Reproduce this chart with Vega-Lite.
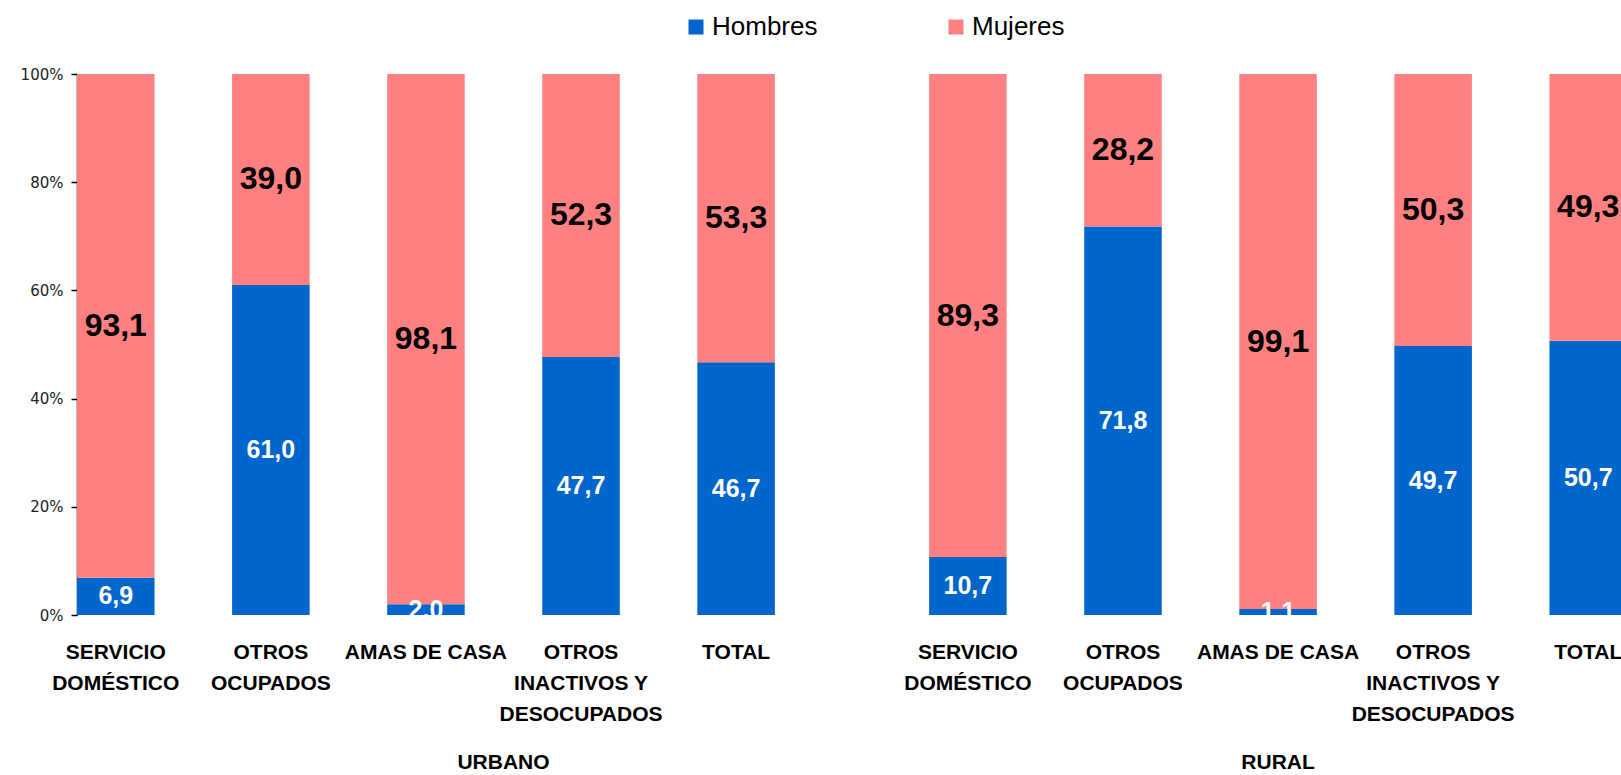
{
  "$schema": "https://vega.github.io/schema/vega-lite/v6.json",
  "width": 1544,
  "height": 541,
  "autosize": {"type": "none"},
  "padding": {"left": 77, "top": 74, "right": 0, "bottom": 160},
  "background": "white",
  "config": {
    "view": {"stroke": null},
    "font": "Liberation Sans",
    "locale": {"number": {"decimal": ",", "thousands": ".", "grouping": [3], "currency": ["", " €"]}}
  },
  "datasets": {
    "valores": [
      {"grupo": "URBANO", "categoria": "SERVICIO\nDOMÉSTICO", "sexo": "Hombres", "valor": 6.9},
      {"grupo": "URBANO", "categoria": "SERVICIO\nDOMÉSTICO", "sexo": "Mujeres", "valor": 93.1},
      {"grupo": "URBANO", "categoria": "OTROS\nOCUPADOS", "sexo": "Hombres", "valor": 61.0},
      {"grupo": "URBANO", "categoria": "OTROS\nOCUPADOS", "sexo": "Mujeres", "valor": 39.0},
      {"grupo": "URBANO", "categoria": "AMAS DE CASA", "sexo": "Hombres", "valor": 2.0},
      {"grupo": "URBANO", "categoria": "AMAS DE CASA", "sexo": "Mujeres", "valor": 98.1},
      {"grupo": "URBANO", "categoria": "OTROS\nINACTIVOS Y\nDESOCUPADOS", "sexo": "Hombres", "valor": 47.7},
      {"grupo": "URBANO", "categoria": "OTROS\nINACTIVOS Y\nDESOCUPADOS", "sexo": "Mujeres", "valor": 52.3},
      {"grupo": "URBANO", "categoria": "TOTAL", "sexo": "Hombres", "valor": 46.7},
      {"grupo": "URBANO", "categoria": "TOTAL", "sexo": "Mujeres", "valor": 53.3},
      {"grupo": "RURAL", "categoria": "SERVICIO\nDOMÉSTICO", "sexo": "Hombres", "valor": 10.7},
      {"grupo": "RURAL", "categoria": "SERVICIO\nDOMÉSTICO", "sexo": "Mujeres", "valor": 89.3},
      {"grupo": "RURAL", "categoria": "OTROS\nOCUPADOS", "sexo": "Hombres", "valor": 71.8},
      {"grupo": "RURAL", "categoria": "OTROS\nOCUPADOS", "sexo": "Mujeres", "valor": 28.2},
      {"grupo": "RURAL", "categoria": "AMAS DE CASA", "sexo": "Hombres", "valor": 1.1},
      {"grupo": "RURAL", "categoria": "AMAS DE CASA", "sexo": "Mujeres", "valor": 99.1},
      {"grupo": "RURAL", "categoria": "OTROS\nINACTIVOS Y\nDESOCUPADOS", "sexo": "Hombres", "valor": 49.7},
      {"grupo": "RURAL", "categoria": "OTROS\nINACTIVOS Y\nDESOCUPADOS", "sexo": "Mujeres", "valor": 50.3},
      {"grupo": "RURAL", "categoria": "TOTAL", "sexo": "Hombres", "valor": 50.7},
      {"grupo": "RURAL", "categoria": "TOTAL", "sexo": "Mujeres", "valor": 49.3}
    ]
  },
  "data": {"name": "valores"},
  "resolve": {"scale": {"y": "independent"}},
  "layer": [
    {
      "mark": {"type": "bar", "clip": false},
      "encoding": {
        "x": {
          "field": "grupo", "type": "nominal",
          "scale": {"domain": ["URBANO", "RURAL"], "range": [0, 1550], "paddingInner": 0.181, "paddingOuter": 0},
          "axis": null
        },
        "xOffset": {
          "field": "categoria", "type": "nominal",
          "scale": {"domain": ["SERVICIO\nDOMÉSTICO", "OTROS\nOCUPADOS", "AMAS DE CASA", "OTROS\nINACTIVOS Y\nDESOCUPADOS", "TOTAL"], "paddingInner": 0.5, "paddingOuter": 0}
        },
        "y": {
          "field": "valor", "type": "quantitative", "stack": "zero",
          "scale": {"domain": [0, 100], "nice": false, "clamp": true},
          "axis": {
            "title": null, "values": [0, 20, 40, 60, 80, 100],
            "labelExpr": "datum.value + '%'",
            "grid": false, "domainColor": "#000000", "domainWidth": 1.5,
            "tickColor": "#000000", "tickSize": 6, "tickWidth": 1.5,
            "labelFont": "DejaVu Sans", "labelFontSize": 15, "labelColor": "#222222", "labelPadding": 8
          }
        },
        "color": {
          "field": "sexo", "type": "nominal",
          "scale": {"domain": ["Hombres", "Mujeres"], "range": ["#0066CC", "#FF8080"]},
          "legend": {
            "title": null, "orient": "none", "direction": "horizontal",
            "legendX": 606, "legendY": -60, "padding": 0,
            "symbolType": "square", "symbolSize": 225, "symbolStrokeWidth": 0, "symbolOpacity": 1,
            "labelFont": "Liberation Sans", "labelFontSize": 26, "labelColor": "#000000",
            "labelOffset": 3, "columnPadding": 125, "labelLimit": 300
          }
        },
        "order": {"field": "sexo", "sort": "ascending"}
      }
    },
    {
      "transform": [{"filter": "datum.sexo == 'Hombres'"}],
      "mark": {"type": "text", "font": "Liberation Sans", "fontWeight": "bold", "fontSize": 25, "color": "#FFFFFF", "baseline": "middle", "align": "center"},
      "encoding": {
        "x": {"field": "grupo", "type": "nominal"},
        "xOffset": {"field": "categoria", "type": "nominal"},
        "y": {"field": "valor", "type": "quantitative", "stack": null, "scale": {"domain": [0, 200], "nice": false}, "axis": null},
        "text": {"field": "valor", "type": "quantitative", "format": ".1f"}
      }
    },
    {
      "transform": [{"filter": "datum.sexo == 'Mujeres'"}],
      "mark": {"type": "text", "font": "Liberation Sans", "fontWeight": "bold", "fontSize": 32, "color": "#000000", "baseline": "middle", "align": "center"},
      "encoding": {
        "x": {"field": "grupo", "type": "nominal"},
        "xOffset": {"field": "categoria", "type": "nominal"},
        "y": {"field": "valor", "type": "quantitative", "stack": null, "scale": {"domain": [0, 200], "nice": false, "reverse": true}, "axis": null},
        "text": {"field": "valor", "type": "quantitative", "format": ".1f"}
      }
    },
    {
      "transform": [{"filter": "datum.sexo == 'Hombres'"}],
      "mark": {"type": "text", "font": "Liberation Sans", "fontWeight": "bold", "fontSize": 21, "color": "#000000", "baseline": "alphabetic", "align": "center", "lineBreak": "\n", "lineHeight": 31, "dy": 43.5},
      "encoding": {
        "x": {"field": "grupo", "type": "nominal"},
        "xOffset": {"field": "categoria", "type": "nominal"},
        "y": {"datum": 0, "type": "quantitative", "scale": {"domain": [0, 100], "nice": false}, "axis": null},
        "text": {"field": "categoria", "type": "nominal"}
      }
    },
    {
      "data": {"values": [{"grupo": "URBANO"}]},
      "mark": {"type": "text", "font": "Liberation Sans", "fontWeight": "bold", "fontSize": 21, "color": "#000000", "baseline": "alphabetic", "align": "center", "dy": 154, "dx": -77.5},
      "encoding": {
        "x": {"field": "grupo", "type": "nominal"},
        "xOffset": {"datum": "OTROS\nINACTIVOS Y\nDESOCUPADOS"},
        "y": {"datum": 0, "type": "quantitative", "scale": {"domain": [0, 100], "nice": false}, "axis": null},
        "text": {"field": "grupo", "type": "nominal"}
      }
    },
    {
      "data": {"values": [{"grupo": "RURAL"}]},
      "mark": {"type": "text", "font": "Liberation Sans", "fontWeight": "bold", "fontSize": 21, "color": "#000000", "baseline": "alphabetic", "align": "center", "dy": 154},
      "encoding": {
        "x": {"field": "grupo", "type": "nominal"},
        "xOffset": {"datum": "AMAS DE CASA"},
        "y": {"datum": 0, "type": "quantitative", "scale": {"domain": [0, 100], "nice": false}, "axis": null},
        "text": {"field": "grupo", "type": "nominal"}
      }
    }
  ]
}
